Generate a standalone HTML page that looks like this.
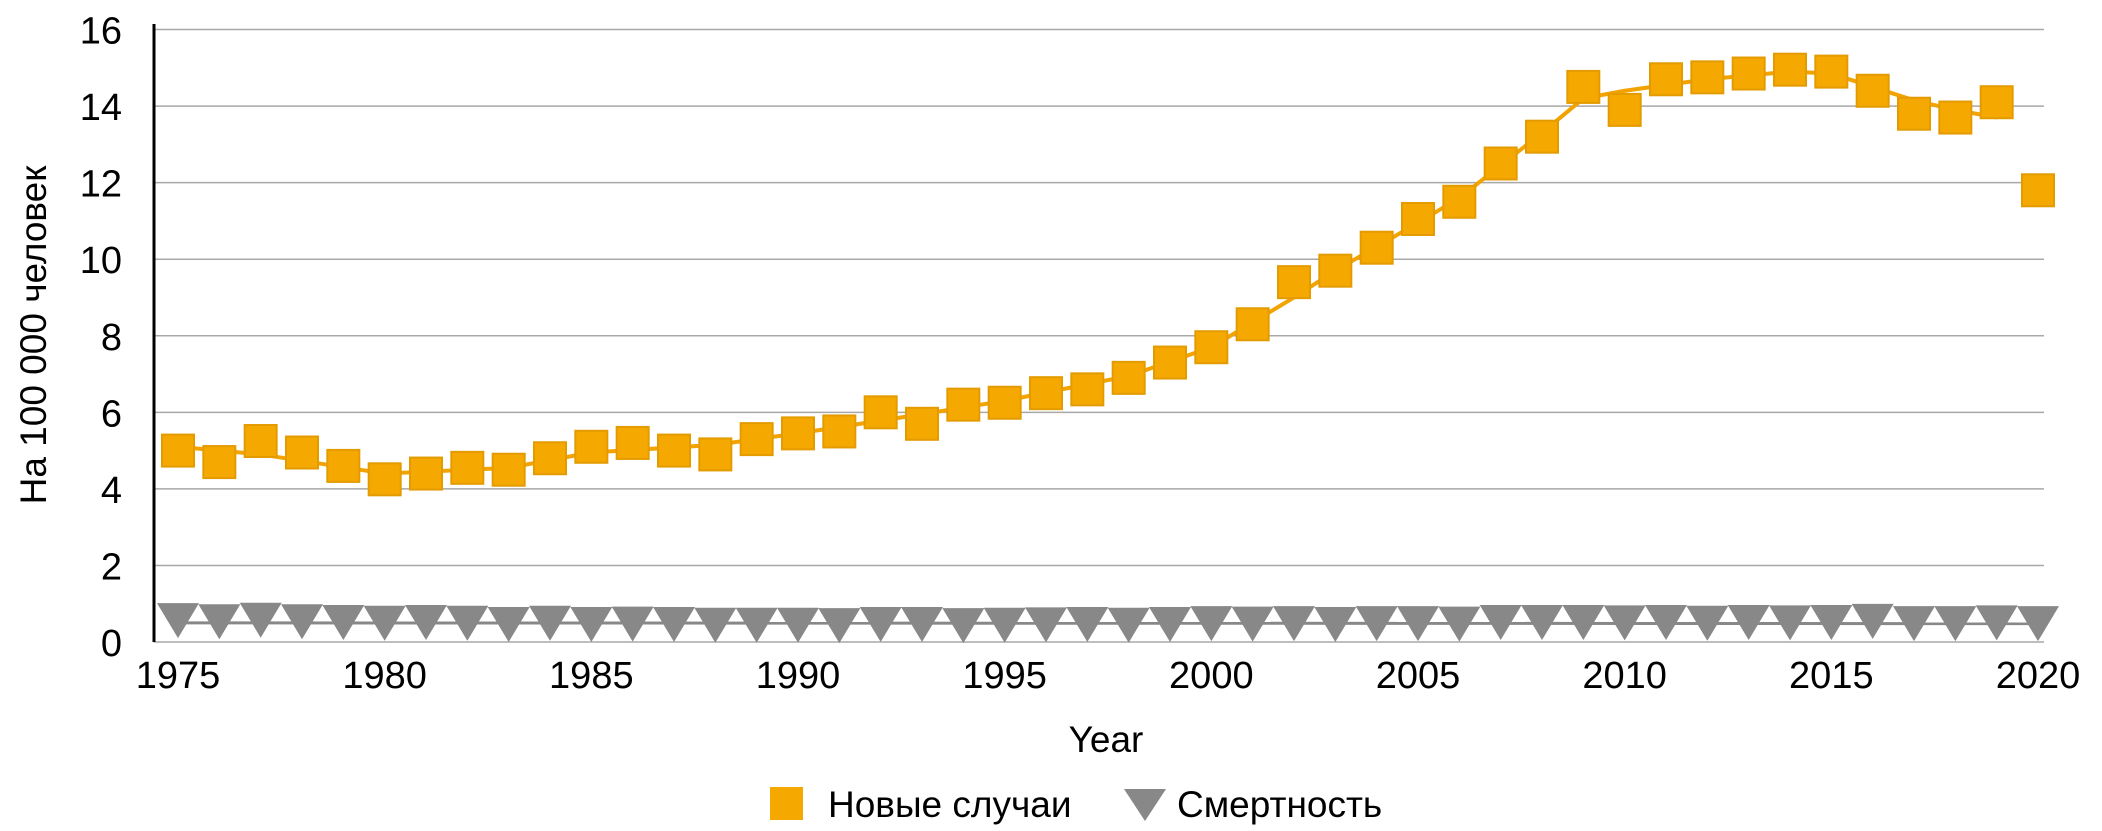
<!DOCTYPE html>
<html><head><meta charset="utf-8"><style>
html,body{margin:0;padding:0;background:#fff;}
svg{display:block;font-family:"Liberation Sans",sans-serif;}
</style></head><body>
<svg id="c" width="2102" height="831" viewBox="0 0 2102 831" xmlns="http://www.w3.org/2000/svg"></svg>
<script>
const s=document.getElementById('c');
const X0=178,XS=(2038-178)/45,Y0=642,YS=(642-29.5)/16;
const xp=y=>X0+(y-1975)*XS, yp=v=>Y0-v*YS;
let h='';
for(let v=2;v<=16;v+=2){h+=`<line x1="154" x2="2044" y1="${yp(v)}" y2="${yp(v)}" stroke="#a8a8a8" stroke-width="1.5"/>`;}
h+=`<line x1="154" x2="2044" y1="${Y0}" y2="${Y0}" stroke="#a8a8a8" stroke-width="1.5"/>`;
h+=`<line x1="154" x2="154" y1="24" y2="${Y0}" stroke="#000" stroke-width="3"/>`;
for(let v=0;v<=16;v+=2){h+=`<text x="122" y="${yp(v)+14}" font-size="38" text-anchor="end">${v}</text>`;}
for(let y=1975;y<=2020;y+=5){h+=`<text x="${xp(y)}" y="688" font-size="38" text-anchor="middle">${y}</text>`;}
h+=`<text x="1106" y="752" font-size="37" text-anchor="middle">Year</text>`;
h+=`<text transform="translate(46,335) rotate(-90)" font-size="37" text-anchor="middle">На 100 000 человек</text>`;
const inc=[5.0,4.7,5.25,4.95,4.6,4.25,4.4,4.55,4.5,4.8,5.1,5.2,5.0,4.9,5.3,5.45,5.5,6.0,5.7,6.2,6.25,6.5,6.6,6.9,7.3,7.7,8.3,9.4,9.7,10.3,11.05,11.5,12.5,13.2,14.5,13.9,14.7,14.75,14.85,14.95,14.9,14.4,13.8,13.7,14.1,11.8];
const tr=[[1975,5.1],[1977,4.9],[1980,4.4],[1983,4.55],[1985,4.95],[1988,5.15],[1990,5.45],[1993,5.95],[1995,6.3],[1998,6.95],[2000,7.7],[2002,9.0],[2003,9.7],[2005,10.95],[2006,11.6],[2007,12.45],[2008,13.3],[2009,14.2],[2010,14.4],[2012,14.7],[2014,14.9],[2015,14.85],[2016,14.5],[2017,14.15],[2018,13.9],[2019,13.7]];
h+=`<polyline fill="none" stroke="#F2A300" stroke-width="4" stroke-linejoin="round" points="${tr.map(p=>xp(p[0])+','+yp(p[1])).join(' ')}"/>`;
h+=`<line x1="${xp(1975)}" x2="${xp(2020)}" y1="${yp(0.5)}" y2="${yp(0.48)}" stroke="#888" stroke-width="3"/>`;
const mort=[0.65,0.62,0.66,0.62,0.6,0.58,0.6,0.58,0.55,0.58,0.55,0.56,0.55,0.53,0.53,0.53,0.52,0.55,0.55,0.52,0.53,0.54,0.55,0.53,0.55,0.57,0.56,0.57,0.55,0.57,0.57,0.56,0.6,0.6,0.6,0.59,0.6,0.58,0.6,0.59,0.6,0.63,0.57,0.57,0.59,0.57];
mort.forEach((v,i)=>{const x=xp(1975+i),y=yp(v);h+=`<polygon points="${x-21},${y-14} ${x+21},${y-14} ${x},${y+21}" fill="#888"/>`;});
inc.forEach((v,i)=>{const x=xp(1975+i),y=yp(v);h+=`<rect x="${x-16}" y="${y-16}" width="32" height="32" fill="#F5A800" stroke="#E39B00" stroke-width="2"/>`;});
h+=`<rect x="770" y="787" width="33" height="33" fill="#F5A800"/>`;
h+=`<text x="828" y="817" font-size="37">Новые случаи</text>`;
h+=`<polygon points="1124,789 1166,789 1145,821" fill="#888"/>`;
h+=`<text x="1177" y="817" font-size="37">Смертность</text>`;
s.innerHTML=h;
</script>
</body></html>
